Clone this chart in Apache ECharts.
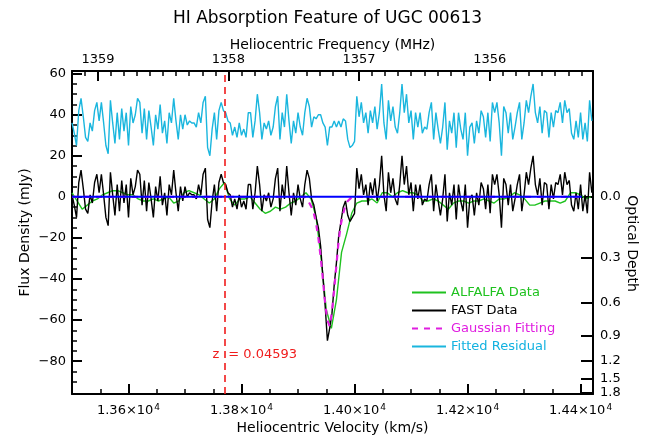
<!DOCTYPE html>
<html>
<head>
<meta charset="utf-8">
<script src="https://cdn.jsdelivr.net/npm/echarts@6/dist/echarts.min.js"></script>
<style>
html, body { margin: 0; padding: 0; background: #ffffff; }
#chart { width: 655px; height: 439px; }
</style>
</head>
<body>
<div id="chart"></div>
<script>
// Channel grids (heliocentric velocity, km/s)
const FAST_V0 = 13500, FAST_DV = 4;
const ALFA_V0 = 13500, ALFA_DV = 9;

// FAST spectrum (mJy), one value per channel
const fastFlux = [
  1, -4, -10, 7, 13, 4, -6, -8, 1, -3,
  7, 11, 2, 11, 1, -10, -14, 12, 1, -9,
  6, -7, 8, -3, 6, -10, 9, 1, 5, 13,
  11, -4, 8, -7, 7, -1, -10, 5, -2, 10,
  -4, 2, -9, 6, 1, 13, 2, -7, 5, -2,
  5, 0, 2, 1, 1, -1, 6, 1, 11, 14,
  -11, -15, -2, 6, -7, 7, 11, 7, 6, 2,
  1, -5, -1, -6, 1, -5, -2, -6, 6, 6,
  -6, 2, 15, 6, -7, 1, -2, 2, -5, -1,
  9, 14, -7, 6, -1, 15, 2, -9, 2, -4,
  6, -1, -5, 6, 13, 9, -1,
  -4, -10, -15, -24, -39, -53, -70, -64, -57, -43,
  -32, -19, -12, -5, -2, -9, -12, -10, -8,
  14, 4, 11, 1, 6, -4, 7, 1, 9, -2,
  6, 20, 1, -7, 12, 2, 9, -1, -4, 6,
  20, 6, 15, 1, 7, -7, 6, -1, 6, -4,
  -1, -2, 6, 11, -7, 6, -2, -9, -1,
  11, -12, 2, -4, 6, -11, 6, -2, -7, 6,
  -15, -1, 1, -9, 2, -4, 7, 4, -6, 6,
  -8, 11, 6, 11, 1, -15, 9, 6, -4, 6,
  -7, -1, 6, 11, -7, 1, 12, 6, 14, 20,
  6, 1, 9, -4, 7, 6, -6, 6, -1,
  7, 6, 11, 1, 12, 6, 8, -4, -7, 2,
  -6, 6, -7, 1, -8, 12, 2
];

// Fit residual, plotted with a +35 mJy offset (same channels as FAST)
const residualFlux = [
  36, 31, 25, 42, 48, 39, 29, 27, 36, 32,
  42, 46, 37, 46, 36, 25, 21, 47, 36, 26,
  41, 28, 43, 32, 41, 25, 44, 36, 40, 48,
  46, 31, 43, 28, 42, 34, 25, 40, 33, 45,
  31, 37, 26, 41, 36, 48, 37, 28, 40, 33,
  40, 35, 37, 36, 36, 34, 41, 36, 46, 49,
  24, 20, 33, 41, 28, 42, 46, 42, 41, 37,
  36, 30, 34, 29, 36, 30, 33, 29, 41, 41,
  29, 37, 50, 41, 28, 36, 33, 37, 30, 34,
  44, 49, 28, 41, 34, 50, 37, 26, 37, 31,
  41, 34, 30, 41, 48, 44, 34,
  39, 38, 40, 40, 36, 34, 25, 34, 34, 37,
  34, 37, 34, 38, 37, 28, 24, 25, 27,
  49, 39, 46, 36, 41, 31, 42, 36, 44, 33,
  41, 55, 36, 28, 47, 37, 44, 34, 31, 41,
  55, 41, 50, 36, 42, 28, 41, 34, 41, 31,
  34, 33, 41, 46, 28, 41, 33, 26, 34,
  46, 23, 37, 31, 41, 24, 41, 33, 28, 41,
  20, 34, 36, 26, 37, 31, 42, 39, 29, 41,
  27, 46, 41, 46, 36, 20, 44, 41, 31, 41,
  28, 34, 41, 46, 28, 36, 47, 41, 49, 55,
  41, 36, 44, 31, 42, 41, 29, 41, 34,
  42, 41, 46, 36, 47, 41, 43, 31, 28, 37,
  29, 41, 28, 36, 27, 47, 37
];

// ALFALFA spectrum (mJy)
const alfalfaFlux = [
  2, -2, -6, -4, -2, -1, 1, 2, 3, 3,
  2, 1, 1, -1, -2, -2, -1, -2, -1, 0,
  -3, -2, 2, 3, 2, 1, -1, -3, -1, 4,
  7, -1, -4, -1, -1, 0, -3, -6, -8, -7,
  -5, -6, -5, -3, -2, 0, 2, -1,
  -10, -30, -55, -64, -50, -27, -18, -8,
  -3, -2, -2, -1, -3, 2, 2, 0, 2, 3,
  2, 2, 1, -2, -2, -1, -2, -4, -6, -3,
  -2, -2, -3, -2, -2, -1, -2, -3, -1, -1,
  0, 2, 1, -1, -4, -4, -3, -2, -2, -2,
  -3, -2, 2, 2, 1, -1, 0
];

// Gaussian fit to the absorption line
const gaussVel  = [13500, 13912, 13916, 13920, 13924, 13928, 13932, 13936, 13940, 13944, 13948,
                   13952, 13956, 13960, 13964, 13968, 13972, 13976, 13980, 13984, 13988, 13992, 13996, 14402];
const gaussFlux = [0, 0, -1, -3, -5, -8, -13, -20, -29, -40, -52,
                   -60, -63, -56, -45, -33, -21, -13, -8, -4, -2, -1, 0, 0];

// Zero-flux reference line
const zeroVel  = [13500, 14402];
const zeroFlux = [0, 0];

// Axis ticks
const velTicks   = [13600, 13800, 14000, 14200, 14400];
const freqTicks  = [1359, 1358, 1357, 1356];
const fluxTicks  = [-80, -60, -40, -20, 0, 20, 40, 60];
const depthTicks = [0.0, 0.3, 0.6, 0.9, 1.2, 1.5, 1.8];

const REDSHIFT = 0.04593;
const CONTINUUM = 114;          // mJy, for the optical-depth scale
const C_KMS = 299792.458;
const F0_MHZ = 1420.405751;

const VMIN = 13500, VMAX = 14422;
const YMIN = -96, YMAX = 61.3;

const FONT = 'DejaVu Sans';

const freqToVel = f => C_KMS * (F0_MHZ / f - 1);
const velToFreq = v => F0_MHZ / (1 + v / C_KMS);
const tauToFlux = t => CONTINUUM * (Math.exp(-t) - 1);
const fluxToTau = s => -Math.log(1 + s / CONTINUUM);

const onGrid = (v0, dv, arr) => arr.map((y, i) => [v0 + i * dv, y]);
const pairs = (xs, ys) => xs.map((x, i) => [x, ys[i]]);

// minor tick positions
const velMinor = [];
for (let v = 13550; v <= 14400; v += 50) if (v % 200 !== 0) velMinor.push(v);
const freqMinor = [];
for (let t = 13592; t >= 13552; t--) {
  if (t % 10 === 0) continue;
  const v = freqToVel(t / 10);
  if (v > VMIN && v < VMAX) freqMinor.push(v);
}
const fluxMinor = [];
for (let s = -90; s <= 55; s += 5) if (s % 20 !== 0) fluxMinor.push(s);

const freqMajor = freqTicks.map(freqToVel);
const depthPos = depthTicks.map(tauToFlux);
const zVel = REDSHIFT * C_KMS;

const black = '#000000';
const axisLine = { show: true, onZero: false, lineStyle: { color: black, width: 2 } };
const noLine = { show: false, onZero: false };
const tickStyle = w => ({ color: black, width: w });

const chart = echarts.init(document.getElementById('chart'), null, { renderer: 'canvas' });

chart.setOption({
  animation: false,
  backgroundColor: '#ffffff',
  textStyle: { fontFamily: FONT },
  title: {
    text: 'HI Absorption Feature of UGC 00613',
    left: 'center',
    top: 5,
    textStyle: { fontFamily: FONT, fontSize: 17, fontWeight: 'normal', color: black }
  },
  grid: { left: 72, right: 62, top: 71, bottom: 45, containLabel: false, outerBoundsMode: 'none' },
  legend: {
    orient: 'vertical',
    left: 411,
    top: 286,
    padding: 0,
    itemWidth: 34,
    itemHeight: 13,
    itemGap: 5,
    itemStyle: { opacity: 0 },
    textStyle: { fontFamily: FONT, fontSize: 13 },
    data: [
      { name: 'ALFALFA Data', textStyle: { color: '#1fc21f' } },
      { name: 'FAST Data', textStyle: { color: black } },
      { name: 'Gaussian Fitting', textStyle: { color: '#e01ee0' } },
      { name: 'Fitted Residual', textStyle: { color: '#12b2e0' } }
    ]
  },
  xAxis: [
    {
      type: 'value', position: 'bottom', min: VMIN, max: VMAX,
      axisLine: axisLine,
      axisTick: { show: true, inside: true, length: 10, customValues: velTicks, lineStyle: tickStyle(2) },
      axisLabel: {
        show: true, margin: 9, customValues: velTicks,
        formatter: v => '{m|' + (v / 1e4).toFixed(2) + '×10}{e|4}',
        rich: {
          m: { fontFamily: FONT, fontSize: 13, color: black, lineHeight: 16 },
          e: { fontFamily: FONT, fontSize: 9, color: black, lineHeight: 9, verticalAlign: 'top', padding: [0, 0, 0, 1] }
        }
      },
      splitLine: { show: false },
      name: 'Heliocentric Velocity (km/s)',
      nameLocation: 'middle', nameGap: 27, nameMoveOverlap: false,
      nameTextStyle: { fontFamily: FONT, fontSize: 14, color: black }
    },
    {
      type: 'value', position: 'bottom', min: VMIN, max: VMAX,
      axisLine: noLine,
      axisTick: { show: true, inside: true, length: 5, customValues: velMinor, lineStyle: tickStyle(1.5) },
      axisLabel: { show: false },
      splitLine: { show: false }
    },
    {
      type: 'value', position: 'top', min: VMIN, max: VMAX,
      axisLine: axisLine,
      axisTick: { show: true, inside: true, length: 10, customValues: freqMajor, lineStyle: tickStyle(2) },
      axisLabel: {
        show: true, margin: 5, customValues: freqMajor,
        fontFamily: FONT, fontSize: 13, color: black,
        formatter: v => String(Math.round(velToFreq(v)))
      },
      splitLine: { show: false },
      name: 'Heliocentric Frequency (MHz)',
      nameLocation: 'middle', nameGap: 19, nameMoveOverlap: false,
      nameTextStyle: { fontFamily: FONT, fontSize: 14, color: black }
    },
    {
      type: 'value', position: 'top', min: VMIN, max: VMAX,
      axisLine: noLine,
      axisTick: { show: true, inside: true, length: 5, customValues: freqMinor, lineStyle: tickStyle(1.5) },
      axisLabel: { show: false },
      splitLine: { show: false }
    }
  ],
  yAxis: [
    {
      type: 'value', position: 'left', min: YMIN, max: YMAX,
      axisLine: axisLine,
      axisTick: { show: true, inside: true, length: 10, customValues: fluxTicks, lineStyle: tickStyle(2) },
      axisLabel: {
        show: true, margin: 6, customValues: fluxTicks,
        fontFamily: FONT, fontSize: 13, color: black,
        formatter: v => String(v).replace('-', '\u2212')
      },
      splitLine: { show: false },
      name: 'Flux Density (mJy)',
      nameLocation: 'middle', nameGap: 40, nameRotate: 90, nameMoveOverlap: false,
      nameTextStyle: { fontFamily: FONT, fontSize: 14, color: black }
    },
    {
      type: 'value', position: 'left', min: YMIN, max: YMAX,
      axisLine: noLine,
      axisTick: { show: true, inside: true, length: 5, customValues: fluxMinor, lineStyle: tickStyle(1.5) },
      axisLabel: { show: false },
      splitLine: { show: false }
    },
    {
      type: 'value', position: 'right', min: YMIN, max: YMAX,
      axisLine: axisLine,
      axisTick: { show: true, inside: true, length: 12, customValues: depthPos, lineStyle: tickStyle(2) },
      axisLabel: {
        show: true, margin: 7, customValues: depthPos,
        fontFamily: FONT, fontSize: 13, color: black,
        formatter: v => Math.abs(fluxToTau(v)).toFixed(1)
      },
      splitLine: { show: false },
      name: 'Optical Depth',
      nameLocation: 'middle', nameGap: 32, nameRotate: -90, nameMoveOverlap: false,
      nameTextStyle: { fontFamily: FONT, fontSize: 14, color: black, padding: [0, 0, 0, 22] }
    }
  ],
  series: [
    {
      name: 'Fitted Residual', type: 'line', xAxisIndex: 0, yAxisIndex: 0,
      data: onGrid(FAST_V0, FAST_DV, residualFlux),
      symbol: 'none', lineStyle: { color: '#1ab6de', width: 1.4 }, itemStyle: { color: '#1ab6de' }
    },
    {
      name: 'ALFALFA Data', type: 'line', xAxisIndex: 0, yAxisIndex: 0,
      data: onGrid(ALFA_V0, ALFA_DV, alfalfaFlux),
      symbol: 'none', lineStyle: { color: '#1fc21f', width: 1.4 }, itemStyle: { color: '#1fc21f' }
    },
    {
      name: 'FAST Data', type: 'line', xAxisIndex: 0, yAxisIndex: 0,
      data: onGrid(FAST_V0, FAST_DV, fastFlux),
      symbol: 'none', lineStyle: { color: black, width: 1.4 }, itemStyle: { color: black }
    },
    {
      name: 'Gaussian Fitting', type: 'line', xAxisIndex: 0, yAxisIndex: 0,
      data: pairs(gaussVel, gaussFlux),
      symbol: 'none', lineStyle: { color: '#e01ee0', width: 2.2, type: [6, 6] }, itemStyle: { color: '#e01ee0' }
    },
    {
      name: 'zero', type: 'line', xAxisIndex: 0, yAxisIndex: 0,
      data: pairs(zeroVel, zeroFlux),
      symbol: 'none', lineStyle: { color: '#0000ff', width: 2 }, itemStyle: { color: '#0000ff' },
      markLine: {
        silent: true, symbol: 'none',
        lineStyle: { color: '#f01c1c', width: 1.6, type: [7, 5] },
        label: { show: false },
        data: [{ xAxis: zVel }]
      },
      markPoint: {
        silent: true, symbol: 'circle', symbolSize: 0,
        data: [
          { coord: [zVel, -77], label: { show: true, position: 'left', distance: 5, formatter: 'z', color: '#f01c1c', fontFamily: FONT, fontSize: 13 } },
          { coord: [zVel, -77], label: { show: true, position: 'right', distance: 4, formatter: '= ' + REDSHIFT.toFixed(5), color: '#f01c1c', fontFamily: FONT, fontSize: 13 } }
        ]
      }
    }
  ]
});
</script>
</body>
</html>
